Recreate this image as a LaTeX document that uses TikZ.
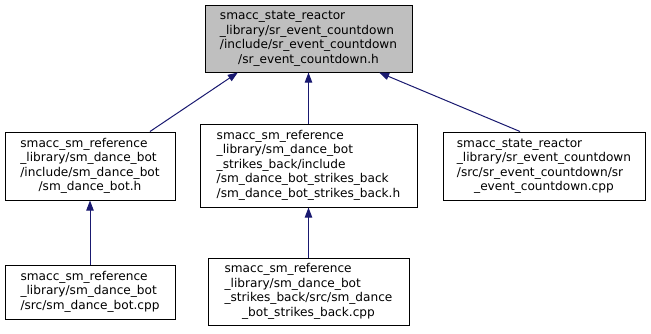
\documentclass[tikz,border=0pt]{standalone}
\usepackage{fontspec}
\setmainfont{DejaVu Sans}
\usetikzlibrary{arrows.meta}
\definecolor{edgeblue}{HTML}{191970}
\definecolor{hilite}{HTML}{BFBFBF}
% label lines: all but the last left-aligned, the last one centred
\newcommand{\flines}[2]{\begin{tabular}{@{}l@{}}#1\\\multicolumn{1}{@{}c@{}}{#2}\end{tabular}}
\begin{document}
\begin{tikzpicture}[x=0.75pt,y=-0.75pt,
  file/.style={draw=black,line width=0.75pt,fill=white,inner sep=0pt,
    font=\fontsize{9.1pt}{10.9pt}\selectfont},
  dep/.style={draw=edgeblue,line width=0.75pt,
    {Triangle[length=7.5pt,width=5.5pt,fill=edgeblue]}-}]
\useasboundingbox (0,0) rectangle (651,333);
\fill[white] (0,0) rectangle (651,333);

\node[file,fill=hilite,minimum width=155.25pt,minimum height=50.25pt] (T) at (308.5,38.5)
  {\flines{smacc\_state\_reactor\\\_library/sr\_event\_countdown\\/include/sr\_event\_countdown}{/sr\_event\_countdown.h}};

\node[file,minimum width=127.5pt,minimum height=51pt] (L1) at (90,166)
  {\flines{smacc\_sm\_reference\\\_library/sm\_dance\_bot\\/include/sm\_dance\_bot}{/sm\_dance\_bot.h}};

\node[file,minimum width=162.75pt,minimum height=62.25pt] (C1) at (308.5,165.5)
  {\flines{smacc\_sm\_reference\\\_library/sm\_dance\_bot\\\_strikes\_back/include\\/sm\_dance\_bot\_strikes\_back}{/sm\_dance\_bot\_strikes\_back.h}};

\node[file,minimum width=151.5pt,minimum height=51pt] (R1) at (544,166)
  {\flines{smacc\_state\_reactor\\\_library/sr\_event\_countdown\\/src/sr\_event\_countdown/sr}{\_event\_countdown.cpp}};

\node[file,minimum width=127.5pt,minimum height=40.5pt] (L2) at (90,292)
  {\flines{smacc\_sm\_reference\\\_library/sm\_dance\_bot}{/src/sm\_dance\_bot.cpp}};

\node[file,minimum width=150.75pt,minimum height=50.25pt] (C2) at (308.5,291.5)
  {\flines{smacc\_sm\_reference\\\_library/sm\_dance\_bot\\\_strikes\_back/src/sm\_dance}{\_bot\_strikes\_back.cpp}};

% include dependencies, arrow heads at the included header
\draw[dep] ([xshift=-53pt]T.south) -- ([xshift=45pt]L1.north);
\draw[dep] (T.south) -- (C1.north);
\draw[dep] ([xshift=53pt]T.south) -- ([xshift=-18pt]R1.north);
\draw[dep] (L1.south) -- (L2.north);
\draw[dep] (C1.south) -- (C2.north);
\end{tikzpicture}
\end{document}
